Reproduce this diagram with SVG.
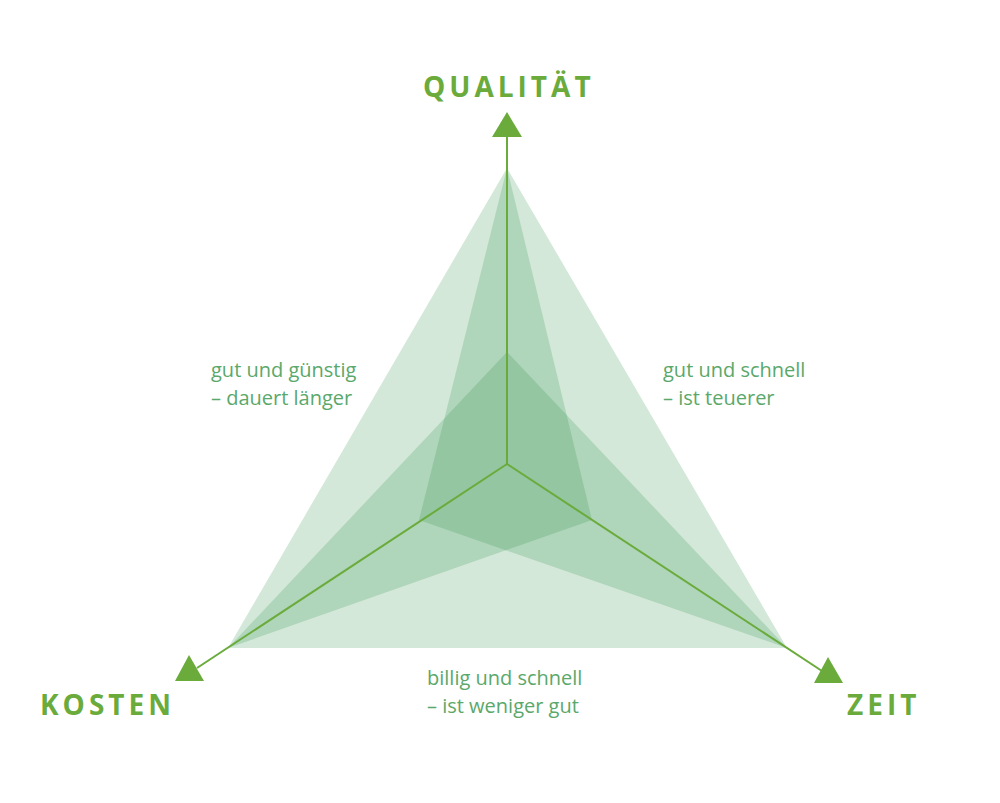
<svg xmlns="http://www.w3.org/2000/svg" width="1000" height="803" viewBox="0 0 1000 803">
<style>
.tri{fill:rgb(35,140,65);fill-opacity:0.2}
.axis{stroke:#6aab3b;stroke-width:2;fill:none}
.head{fill:#6aab3b}
.title{font-family:"Open Sans","Liberation Sans",sans-serif;font-weight:bold;font-size:28px;fill:#6aab3b;letter-spacing:4px}
.lbl{font-family:"Open Sans","Liberation Sans",sans-serif;font-size:20px;fill:#5aa86a}
</style>
<rect width="1000" height="803" fill="#ffffff"/>
<g id="areas">
<polygon class="tri" points="507,168 787,648 419,520"/>
<polygon class="tri" points="507,168 228,648 592,520"/>
<polygon class="tri" points="228,648 787,648 507,352"/>
</g>
<g id="connectors">
<line class="axis" x1="507" y1="464" x2="507" y2="136"/>
<line class="axis" x1="507" y1="464" x2="197" y2="668"/>
<line class="axis" x1="507" y1="464" x2="822" y2="671"/>
</g>
<g id="qualitaet">
<polygon class="head" points="507,112 492,137 522,137"/>
<text class="title" x="423" y="97">QUALITÄT</text>
</g>
<g id="kosten">
<polygon class="head" points="189,655 175,681 204,681"/>
<text class="title" x="40" y="715">KOSTEN</text>
</g>
<g id="zeit">
<polygon class="head" points="828,657 814,683 843,683"/>
<text class="title" x="847" y="715">ZEIT</text>
</g>
<g id="label-gut-guenstig">
<text class="lbl" x="211" y="377">gut und günstig</text>
<text class="lbl" x="211" y="405">– dauert länger</text>
</g>
<g id="label-gut-schnell">
<text class="lbl" x="663" y="377">gut und schnell</text>
<text class="lbl" x="663" y="405">– ist teuerer</text>
</g>
<g id="label-billig-schnell">
<text class="lbl" x="427" y="685">billig und schnell</text>
<text class="lbl" x="427" y="713">– ist weniger gut</text>
</g>
</svg>
